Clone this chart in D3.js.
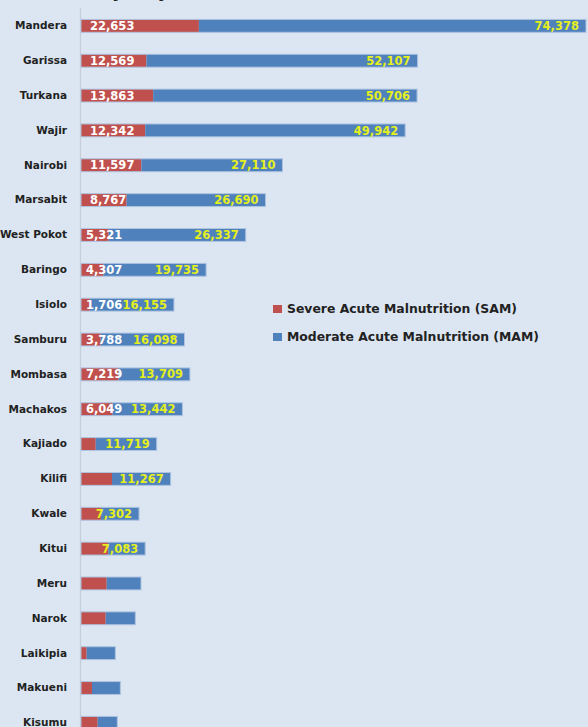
<!DOCTYPE html>
<html>
<head>
<meta charset="utf-8">
<script src="https://cdn.jsdelivr.net/npm/d3@7"></script>
<style>
  html, body { margin: 0; padding: 0; background: #dce6f2; }
  svg { display: block; }
</style>
</head>
<body>
<svg id="drawing_region"></svg>
<script>
// counties, top to bottom
const counties = ["Mandera","Garissa","Turkana","Wajir","Nairobi","Marsabit","West Pokot","Baringo",
    "Isiolo","Samburu","Mombasa","Machakos","Kajiado","Kilifi","Kwale","Kitui","Meru","Narok",
    "Laikipia","Makueni","Kisumu"];

// Severe Acute Malnutrition (SAM)
const samValues = [22653,12569,13863,12342,11597,8767,5321,4307,1706,3788,7219,6049,
    2830,5960,3850,5250,4940,4750,1090,2110,3210];

// Moderate Acute Malnutrition (MAM)
const mamValues = [74378,52107,50706,49942,27110,26690,26337,19735,16155,16098,13709,13442,
    11719,11267,7302,7083,6590,5690,5510,5450,3770];

// only some bars carry a printed value
const samLabeled = 12;   // first 12 rows show SAM
const mamLabeled = 16;   // first 16 rows show MAM

const seriesNames = ["Severe Acute Malnutrition (SAM)", "Moderate Acute Malnutrition (MAM)"];
const seriesColors = ["#c0504d", "#4f81bd"];

const width = 588, height = 727;
const fmt = d3.format(",");

const svg = d3.select('#drawing_region')
    .attr('width', width)
    .attr('height', height);

svg.append('rect')
    .attr('width', width).attr('height', height)
    .attr('fill', '#dce6f2');

// title sits above the top edge, only its descenders show
svg.append('text')
    .attr('x', 4).attr('y', -3)
    .attr('font-family', 'DejaVu Sans, sans-serif')
    .attr('font-size', 18).attr('font-weight', 'bold')
    .attr('fill', '#222')
    .text('Counties by Major Acute Malnutrition');

const rows = counties.map((c, i) => ({county: c, sam: samValues[i], mam: mamValues[i], i: i}));

const xscale = d3.scaleLinear()
    .domain([0, 97031])
    .range([81, 586]);

const yscale = d3.scaleBand()
    .domain(counties)
    .range([8.43, 8.43 + 21 * 34.85])
    .paddingInner(0.63)
    .paddingOuter(0.315);

// vertical axis line
svg.append('line')
    .attr('x1', 80.5).attr('x2', 80.5)
    .attr('y1', 8).attr('y2', height)
    .attr('stroke', '#c6ced9')
    .attr('stroke-width', 1.2);

const yaxis = d3.axisLeft(yscale).tickSize(0).tickPadding(13);
const yaxis_group = svg.append('g')
    .attr('transform', 'translate(80,0)')
    .call(yaxis);
yaxis_group.select('.domain').remove();
yaxis_group.selectAll('text')
    .attr('font-family', 'DejaVu Sans, sans-serif')
    .attr('font-size', 10.5)
    .attr('font-weight', 'bold')
    .attr('fill', '#222');

const bars = svg.append('g');

// SAM segment
bars.selectAll('rect.sam')
    .data(rows)
    .enter()
    .append('rect')
    .attr('class', 'sam')
    .attr('x', xscale(0))
    .attr('y', d => yscale(d.county))
    .attr('width', d => xscale(d.sam) - xscale(0))
    .attr('height', yscale.bandwidth())
    .attr('fill', seriesColors[0]);

// MAM segment stacked after SAM
bars.selectAll('rect.mam')
    .data(rows)
    .enter()
    .append('rect')
    .attr('class', 'mam')
    .attr('x', d => xscale(d.sam))
    .attr('y', d => yscale(d.county))
    .attr('width', d => xscale(d.sam + d.mam) - xscale(d.sam))
    .attr('height', yscale.bandwidth())
    .attr('fill', seriesColors[1]);

// faint light outline around whole bar
bars.selectAll('rect.edge')
    .data(rows)
    .enter()
    .append('rect')
    .attr('x', xscale(0))
    .attr('y', d => yscale(d.county))
    .attr('width', d => xscale(d.sam + d.mam) - xscale(0))
    .attr('height', yscale.bandwidth())
    .attr('fill', 'none')
    .attr('stroke', '#aec4e0')
    .attr('stroke-width', 1);

const labels = svg.append('g')
    .attr('font-family', 'DejaVu Sans, sans-serif')
    .attr('font-size', 11.5)
    .attr('font-weight', 'bold');

// short red bars get their number closer to the start
labels.selectAll('text.sam')
    .data(rows.filter(d => d.i < samLabeled))
    .enter()
    .append('text')
    .attr('x', d => xscale(0) + (d.sam > 8000 ? 9 : 5))
    .attr('y', d => yscale(d.county) + yscale.bandwidth() / 2)
    .attr('dy', '0.36em')
    .attr('fill', '#ffffff')
    .text(d => fmt(d.sam));

labels.selectAll('text.mam')
    .data(rows.filter(d => d.i < mamLabeled))
    .enter()
    .append('text')
    .attr('x', d => xscale(d.sam + d.mam) - 7)
    .attr('y', d => yscale(d.county) + yscale.bandwidth() / 2)
    .attr('dy', '0.36em')
    .attr('text-anchor', 'end')
    .attr('fill', '#e4ef1c')
    .text(d => fmt(d.mam));

// legend
const legend = svg.append('g')
    .attr('transform', 'translate(273,305)');

const legendItems = legend.selectAll('g')
    .data(seriesNames)
    .enter()
    .append('g')
    .attr('transform', (d, i) => `translate(0, ${i * 28})`);

legendItems.append('rect')
    .attr('width', 9).attr('height', 8)
    .attr('fill', (d, i) => seriesColors[i]);

legendItems.append('text')
    .attr('x', 14)
    .attr('y', 4)
    .attr('dy', '0.36em')
    .attr('font-family', 'DejaVu Sans, sans-serif')
    .attr('font-size', 12.4)
    .attr('font-weight', 'bold')
    .attr('fill', '#222')
    .text(d => d);
</script>
</body>
</html>
